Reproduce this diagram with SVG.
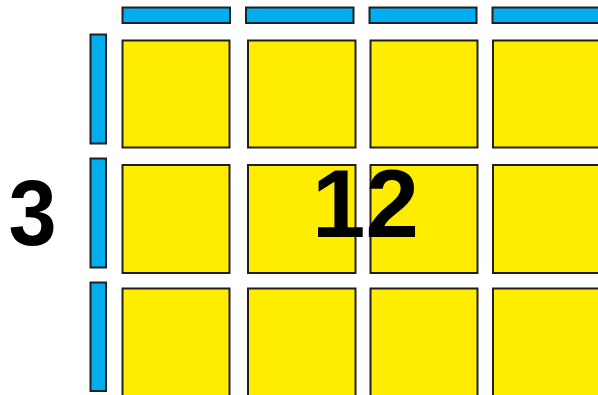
<svg xmlns="http://www.w3.org/2000/svg" width="598" height="395" viewBox="0 0 598 395">
<style>
.sq{fill:#ffed00;stroke:#231f20;stroke-width:2}
.bar{fill:#00aeef;stroke:#231f20;stroke-width:2}
.t{font-family:"Liberation Sans",Arial,sans-serif;font-weight:bold;fill:#000}
</style>
<rect width="598" height="395" fill="#fff"/>
<g id="top-bars">
<rect class="bar" x="122.5" y="7.5" width="107.5" height="15.5"/>
<rect class="bar" x="246" y="7.5" width="107.5" height="15.5"/>
<rect class="bar" x="369.5" y="7.5" width="107" height="15.5"/>
<rect class="bar" x="492.5" y="7.5" width="110" height="15.5"/>
</g>
<g id="left-bars">
<rect class="bar" x="90.5" y="34.5" width="15.5" height="109"/>
<rect class="bar" x="90.5" y="158.5" width="15.5" height="109"/>
<rect class="bar" x="90.5" y="282.5" width="15.5" height="108.5"/>
</g>
<g id="squares">
<rect class="sq" x="122.5" y="40.5" width="107" height="107"/>
<rect class="sq" x="248" y="40.5" width="107.5" height="107"/>
<rect class="sq" x="370.5" y="40.5" width="107" height="107"/>
<rect class="sq" x="493" y="40.5" width="110" height="107"/>
<rect class="sq" x="122.5" y="165" width="107" height="108"/>
<rect class="sq" x="248" y="165" width="107.5" height="108"/>
<rect class="sq" x="370.5" y="165" width="107" height="108"/>
<rect class="sq" x="493" y="165" width="110" height="108"/>
<rect class="sq" x="122.5" y="288.5" width="107" height="110"/>
<rect class="sq" x="248" y="288.5" width="107.5" height="110"/>
<rect class="sq" x="370.5" y="288.5" width="107" height="110"/>
<rect class="sq" x="493" y="288.5" width="110" height="110"/>
</g>
<text class="t" x="0" y="0" font-size="92" transform="translate(8.5,245) scale(0.94,1)">3</text>
<text class="t" x="312" y="237" font-size="96">12</text>
</svg>
